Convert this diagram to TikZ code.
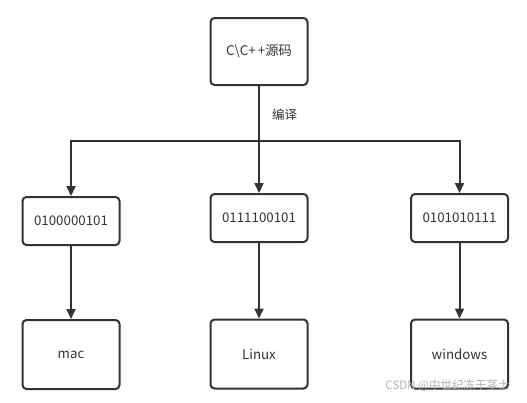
\documentclass[tikz,border=0pt]{standalone}
\usepackage{fontspec}
\setmainfont{Noto Sans CJK SC}
\usetikzlibrary{arrows.meta}
\definecolor{ink}{HTML}{333333}
\tikzset{
	box/.style={draw=ink, line width=2pt, rounded corners=4pt, minimum width=97pt, text=ink, font=\fontsize{13.3}{16}\selectfont},
	link/.style={draw=ink, line width=2pt},
	arrow/.style={link, -{Triangle[length=10pt, width=9pt]}}
}

\begin{document}
\begin{tikzpicture}[x=1pt, y=-1pt]
		%%%%% START %%%%%
		\useasboundingbox (0, 0) rectangle (527, 402);
		
		\node[box, minimum height=67pt] (src) at (259, 51.5) {C\textbackslash C+\,+源码};
		
		\node[box, minimum height=48pt] (bin1) at (71, 221) {0100000101};
		\node[box, minimum height=48pt] (bin2) at (259, 218) {0111100101};
		\node[box, minimum height=48pt] (bin3) at (459.5, 218) {0101010111};
		
		\node[box, minimum height=69pt] (mac) at (71, 354.5) {mac};
		\node[box, minimum height=69pt] (linux) at (259, 354) {Linux};
		\node[box, minimum height=69pt] (win) at (459.5, 354) {windows};
		
		\coordinate (split) at (259, 141);
		\node[text=ink, font=\fontsize{12.5}{15}\selectfont] (compile) at (284.5, 115) {编译};
		
		\draw[link] (src) -- (split);
		\draw[arrow] (split) -| (bin1);
		\draw[arrow] (split) -- (bin2);
		\draw[arrow] (split) -| (bin3);
		
		\draw[arrow] (bin1) -- (mac);
		\draw[arrow] (bin2) -- (linux);
		\draw[arrow] (bin3) -- (win);
		
		\node[text=black!30, font=\fontsize{11.5}{14}\selectfont] (mark) at (447.5, 386) {CSDN @中世纪冻干茎土};
		
		%%%%% END %%%%%
	\end{tikzpicture}
\end{document}
